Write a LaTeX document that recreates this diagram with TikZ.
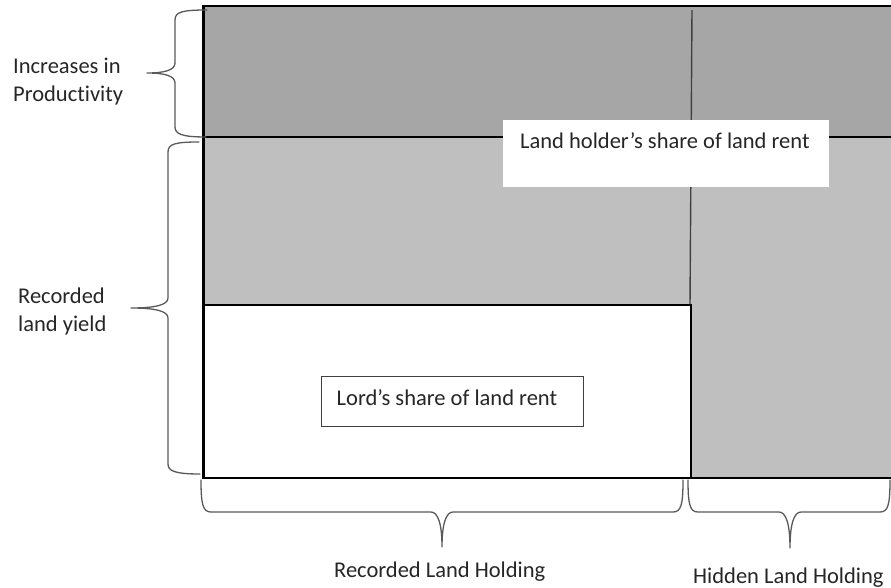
\documentclass[tikz,border=0pt]{standalone}
\usepackage{fontspec}
\setmainfont{Carlito}[Ligatures={NoCommon,NoRare,NoDiscretionary}]
\definecolor{darkband}{HTML}{A6A6A6}
\definecolor{lightband}{HTML}{BFBFBF}
\definecolor{bracegray}{HTML}{595959}
\definecolor{linegray}{HTML}{404040}
\tikzset{
  bracestyle/.style={draw=bracegray, line width=1.3pt, line join=round, line cap=round},
  frameline/.style={draw=black, line width=2.2pt},
  labeltext/.style={anchor=base west, inner sep=0pt, font=\fontsize{22.5}{28}\selectfont, text=black!85},
}
\begin{document}
\begin{tikzpicture}[x=1pt, y=-1pt]
\useasboundingbox (0,0) rectangle (891,588);
\clip (0,0) rectangle (891,588);
% bands
\fill[darkband] (203.5,6) rectangle (898,137);
\fill[lightband] (203.5,137) rectangle (898,478);
\fill[white] (203.5,305) rectangle (691,478);
% vertical divider
\coordinate (vtop) at (692,10);
\coordinate (vbot) at (690,305);
\draw[linegray, line width=1.4pt] (vtop) -- (vbot);
% frame lines
\draw[frameline] (898,6) -- (203.5,6) -- (203.5,478) -- (898,478);
\draw[frameline] (203.5,137) -- (898,137);
\draw[frameline] (203.5,305) -- (691,305) -- (691,478);
% land holder box
\node[fill=white, inner sep=0pt, minimum width=326pt, minimum height=67pt, anchor=north west] (holderbox) at (503,119.5) {};
\node[labeltext] (holdertext) at (520,149) {Land holder’s share of land rent};
% lord box
\node[draw=linegray, line width=1.2pt, fill=white, inner sep=0pt, minimum width=262pt, minimum height=50pt, anchor=north west] (lordbox) at (321,376) {};
\node[labeltext] (lordtext) at (336.5,405) {Lord’s share of land rent};
% left labels
\node[labeltext] (incA) at (13,74) {Increases in};
\node[labeltext] (incB) at (13,102) {Produc\kern0pt tivity};
\node[labeltext] (recA) at (18,303) {Recorded};
\node[labeltext] (recB) at (18,331) {land yield};
% bottom labels
\node[labeltext] (recholding) at (334,577) {Recorded Land Holding};
\node[labeltext] (hidholding) at (693,583) {Hidden Land Holding};
% braces left
\path[bracestyle] (207,10) .. controls (182,10) and (175,12) .. (175,20) -- (175,63)
  .. controls (175,70) and (165,73) .. (147,73)
  .. controls (165,73) and (175,76) .. (175,83) -- (175,127)
  .. controls (175,134) and (182,137) .. (206,137);
\path[bracestyle] (199,142) .. controls (175,142) and (168,144) .. (168,152) -- (168,298)
  .. controls (168,305) and (155,308) .. (131,308)
  .. controls (155,308) and (168,311) .. (168,318) -- (168,464)
  .. controls (168,471) and (175,474) .. (200,474);
% braces bottom
\path[bracestyle] (201,480) .. controls (201,505) and (203,512) .. (211,512) -- (431,512)
  .. controls (438,512) and (442,524) .. (442,547)
  .. controls (442,524) and (446,512) .. (453,512) -- (673,512)
  .. controls (681,512) and (683,505) .. (683,480);
\path[bracestyle] (688,480) .. controls (688,505) and (690,512) .. (698,512) -- (779,512)
  .. controls (786,512) and (790,524) .. (790,548)
  .. controls (790,524) and (794,512) .. (801,512) -- (880,512)
  .. controls (888,512) and (890,505) .. (890,480);
\end{tikzpicture}
\end{document}
